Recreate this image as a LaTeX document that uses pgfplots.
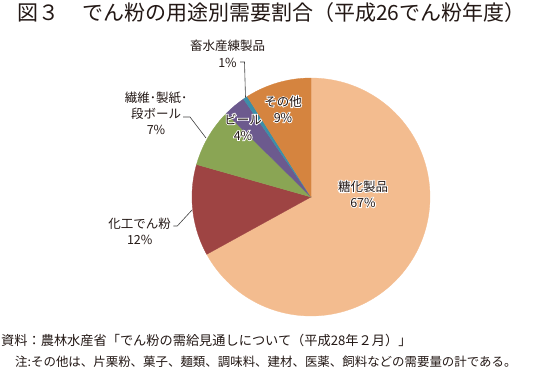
\documentclass[border=0pt]{standalone}
\usepackage{pgfplots}
\pgfplotsset{compat=1.18}
\usepackage{pgfplotstable}
\usepackage{fontspec}
\setmainfont{Noto Sans CJK JP}
\newfontfamily\halofont{Noto Sans CJK JP}[FakeBold=14]

\definecolor{cA}{HTML}{F3BC8F}
\definecolor{cB}{HTML}{9E4443}
\definecolor{cC}{HTML}{8AA554}
\definecolor{cD}{HTML}{6C5A8E}
\definecolor{cE}{HTML}{3C8FA8}
\definecolor{cF}{HTML}{D5843F}
\definecolor{ink}{HTML}{231815}
\definecolor{lead}{HTML}{404040}

% shares (percent), clockwise from 12 o'clock
\pgfplotstableread{
share
67.0
12.4
8.0
3.0
0.6
9.0
}\piedata

\pgfplotstablegetelem{0}{share}\of\piedata \pgfmathsetmacro\aA{90-3.6*\pgfplotsretval}
\pgfplotstablegetelem{1}{share}\of\piedata \pgfmathsetmacro\aB{\aA-3.6*\pgfplotsretval}
\pgfplotstablegetelem{2}{share}\of\piedata \pgfmathsetmacro\aC{\aB-3.6*\pgfplotsretval}
\pgfplotstablegetelem{3}{share}\of\piedata \pgfmathsetmacro\aD{\aC-3.6*\pgfplotsretval}
\pgfplotstablegetelem{4}{share}\of\piedata \pgfmathsetmacro\aE{\aD-3.6*\pgfplotsretval}
\pgfplotstablegetelem{5}{share}\of\piedata \pgfmathsetmacro\aF{\aE-3.6*\pgfplotsretval}

\newcommand\halo[1]{\leavevmode
\rlap{\textcolor{white}{\halofont #1}}%
\textcolor{ink}{#1}}

\newcommand\slice[3]{%
\addplot[fill=#1, draw=#1, line width=0.3pt, domain=#2:#3, samples=120, variable=\t]
 ({311+119*cos(\t)},{173+119*sin(\t)}) -- (axis cs:311,173) -- cycle;}

\begin{document}
\begin{tikzpicture}
\useasboundingbox (0,0) rectangle (546pt,370pt);
\begin{axis}[scale only axis, width=546pt, height=370pt,
  xmin=0, xmax=546, ymin=0, ymax=370, hide axis, clip=false,
  anchor=south west, at={(0,0)}]
\slice{cA}{\aA}{90}
\slice{cB}{\aB}{\aA}
\slice{cC}{\aC}{\aB}
\slice{cD}{\aD}{\aC}
\slice{cE}{\aE}{\aD}
\slice{cF}{\aF}{\aE}

% leader lines
\draw[lead, line width=0.6pt] (axis cs:240,308) -- (axis cs:244.5,308) -- (axis cs:245.5,272.5);
\draw[lead, line width=0.6pt] (axis cs:183,253) -- (axis cs:190,253) -- (axis cs:206,232);
\draw[lead, line width=0.6pt] (axis cs:173.3,144) -- (axis cs:177.3,144) -- (axis cs:192,160);

% inside labels
\node[align=center, font=\fontsize{12.5}{16}\selectfont, inner sep=0pt] at (axis cs:363,176) {\halo{糖化製品}\\\halo{67\%}};
\node[align=center, font=\fontsize{12.5}{16}\selectfont, inner sep=0pt] at (axis cs:283,261) {\halo{その他}\\\halo{9\%}};
\node[align=center, font=\fontsize{12.5}{16}\selectfont, inner sep=0pt] at (axis cs:243,243) {\halo{ビール}\\\halo{4\%}};

% outside labels
\node[align=center, text=ink, font=\fontsize{12.5}{17}\selectfont, inner sep=0pt] at (axis cs:227.5,316.3) {畜水産練製品\\1\%};
\node[align=center, text=ink, font=\fontsize{12.5}{15.7}\selectfont, inner sep=0pt] at (axis cs:156,256.7) {繊維･製紙･\\段ボール\\7\%};
\node[align=center, text=ink, font=\fontsize{12.5}{15.7}\selectfont, inner sep=0pt] at (axis cs:139.7,138.8) {化工でん粉\\12\%};

% title
\node[anchor=west, text=ink, font=\fontsize{21}{25}\selectfont, inner sep=0pt] at (axis cs:17,357.3) {図３\hspace{0.1em}　でん粉の用途別需要割合（平成26でん粉年度）};

% footer
\node[anchor=west, text=ink, font=\fontsize{13.2}{15}\selectfont, inner sep=0pt] at (axis cs:1,29.3) {資料：農林水産省「でん粉の需給見通しについて（平成28年２月）」};
\node[anchor=west, text=ink, font=\fontsize{12.45}{15}\selectfont, inner sep=0pt] at (axis cs:15,8.3) {注:その他は、片栗粉、菓子、麺類、調味料、建材、医薬、飼料などの需要量の計である。};
\end{axis}
\end{tikzpicture}
\end{document}
